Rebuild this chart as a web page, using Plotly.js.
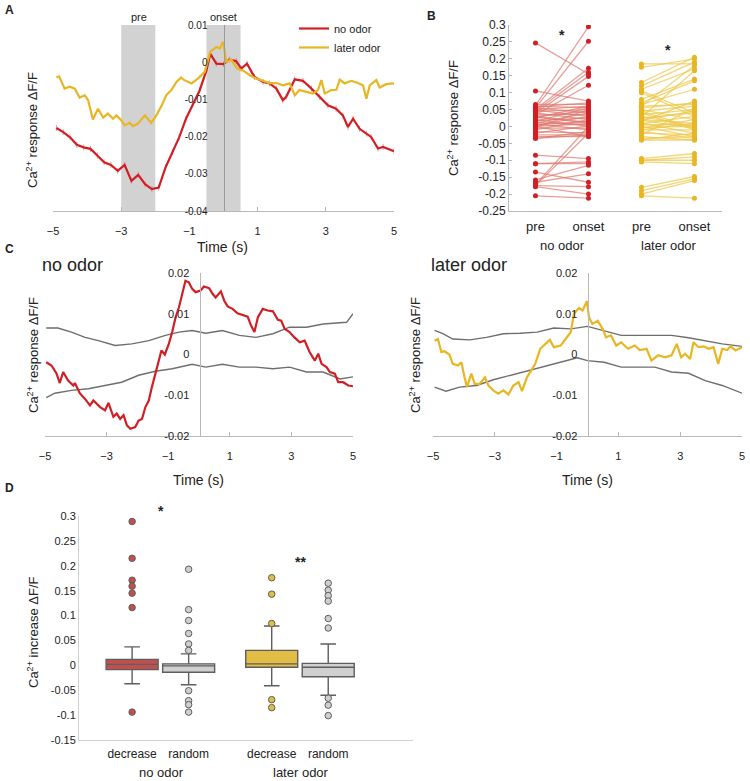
<!DOCTYPE html>
<html><head><meta charset="utf-8">
<script src="https://cdn.plot.ly/plotly-3.0.1.min.js"></script>
<style>html,body{margin:0;padding:0;background:#fff}#chart{width:750px;height:781px}</style>
</head><body><div id="chart"></div>
<script>
// ---------- DATA ----------
// Panel A: mean traces
const tA_noOdor = [-4.9,-4.7,-4.5,-4.3,-4.1,-3.9,-3.7,-3.5,-3.3,-3.1,-2.9,-2.7,-2.5,-2.3,-2.1,-1.9,-1.7,-1.5,-1.3,-1.1,-0.9,-0.7,-0.5,-0.39,-0.21,0,0.17,0.37,0.52,0.69,0.91,1.16,1.35,1.55,1.74,1.84,2.09,2.33,2.58,2.82,3.06,3.3,3.5,3.65,3.8,3.99,4.19,4.33,4.53,4.68,5.0];
const vA_noOdor = [-0.0177,-0.0188,-0.0202,-0.0222,-0.0229,-0.0233,-0.0251,-0.0269,-0.0276,-0.0292,-0.0276,-0.0319,-0.0303,-0.0328,-0.0341,-0.0337,-0.0283,-0.0242,-0.0202,-0.0152,-0.0112,-0.0076,-0.0022,0.0023,-0.0004,-0.0005,0.0007,0.0003,-0.0017,-0.0004,-0.004,-0.0053,-0.0057,-0.0071,-0.0102,-0.0093,-0.0046,-0.005,-0.0071,-0.0093,-0.0116,-0.0125,-0.0143,-0.0174,-0.0152,-0.0179,-0.0192,-0.0201,-0.0232,-0.0228,-0.0239];
const tA_laterOdor = [-4.9,-4.82,-4.66,-4.51,-4.36,-4.22,-4.07,-3.97,-3.83,-3.68,-3.53,-3.39,-3.24,-3.14,-3.0,-2.9,-2.75,-2.65,-2.51,-2.31,-2.12,-1.97,-1.82,-1.68,-1.53,-1.38,-1.24,-1.17,-0.94,-0.75,-0.55,-0.39,-0.21,-0.11,-0.01,0.08,0.23,0.4,0.57,0.77,0.96,1.16,1.35,1.55,1.74,1.94,2.09,2.23,2.43,2.62,2.77,2.87,2.97,3.16,3.31,3.41,3.55,3.75,3.94,4.09,4.19,4.29,4.48,4.58,4.77,5.0];
const vA_laterOdor = [-0.0041,-0.0038,-0.0071,-0.0066,-0.0071,-0.0095,-0.0089,-0.0102,-0.0154,-0.0125,-0.0149,-0.0138,-0.0152,-0.0143,-0.0156,-0.017,-0.0163,-0.0172,-0.0165,-0.0143,-0.0163,-0.0143,-0.0118,-0.0089,-0.0075,-0.0053,-0.0041,-0.0047,-0.0057,-0.0044,-0.0026,0.0028,0.0041,0.0037,0.0055,0.0001,0.0007,-0.0017,-0.0022,-0.0035,-0.0044,-0.005,-0.0056,-0.0056,-0.0062,-0.0057,-0.0089,-0.0075,-0.008,-0.0084,-0.0075,-0.0048,-0.0084,-0.0075,-0.0074,-0.0047,-0.0057,-0.005,-0.0056,-0.0062,-0.0098,-0.0062,-0.0048,-0.0068,-0.0059,-0.0057];
const semA_noOdor = 0.0008;

// Panel B: paired pre / onset responses
const preNoOdor   = [0.247,0.105,0.062,0.055,0.05,0.045,0.04,0.035,0.065,0.06,0.058,0.055,0.05,0.048,0.045,0.04,0.035,0.03,0.028,0.025,0.02,0.018,0.015,0.012,0.01,0.008,0.005,0.003,0.0,-0.003,-0.005,-0.01,-0.015,-0.02,-0.025,-0.03,-0.035,-0.085,-0.11,-0.11,-0.135,-0.158,-0.165,-0.172,-0.175,-0.178,-0.175,-0.205,-0.035,0.0,0.03];
const onsetNoOdor = [0.155,0.075,0.295,0.252,0.172,0.16,0.148,0.122,0.065,0.055,0.07,0.04,0.06,0.03,0.05,0.02,0.035,0.045,0.01,0.06,0.0,0.025,0.055,0.005,0.04,-0.01,0.015,0.03,0.008,0.05,-0.005,0.02,-0.02,0.002,-0.025,-0.03,-0.015,-0.095,-0.11,-0.105,-0.165,-0.115,-0.14,0.0,-0.02,-0.2,-0.178,-0.212,-0.025,-0.03,0.012];
const preLaterOdor   = [0.185,0.175,0.13,0.12,0.11,0.105,0.1,0.08,0.07,0.065,0.06,0.055,0.05,0.045,0.04,0.035,0.03,0.028,0.025,0.02,0.018,0.015,0.01,0.008,0.005,0.0,-0.003,-0.005,-0.01,-0.015,-0.02,-0.025,-0.03,-0.035,-0.04,-0.04,-0.095,-0.1,-0.1,-0.105,-0.18,-0.19,-0.2,-0.205,0.06,0.045,-0.01,0.02];
const onsetLaterOdor = [0.185,0.2,0.205,0.19,0.17,0.04,0.03,0.14,0.135,0.11,0.18,0.07,0.02,0.06,-0.01,0.05,0.0,0.165,0.04,0.01,-0.005,0.075,-0.02,0.03,0.005,-0.03,0.0,0.02,-0.01,-0.035,-0.025,0.055,-0.04,-0.03,-0.04,-0.02,-0.08,-0.09,-0.1,-0.11,-0.148,-0.155,-0.16,-0.212,0.065,-0.005,0.01,0.045];
const catB = ['pre','onset','pre','onset'];
const groupB = ['no odor','later odor'];
const yTicksB = [0.3,0.25,0.2,0.15,0.1,0.05,0,-0.05,-0.1,-0.15,-0.2,-0.25];
const yTickTextB = ['0.3','0.25','0.2','0.15','0.1','0.05','0','-0.05','-0.1','-0.15','-0.2','-0.25'];

// Panel C: example cells with shuffle bounds
const tC_red = [-4.96,-4.79,-4.63,-4.52,-4.41,-4.25,-4.08,-4.03,-3.87,-3.7,-3.54,-3.43,-3.21,-3.05,-2.94,-2.78,-2.67,-2.56,-2.45,-2.34,-2.23,-2.07,-1.96,-1.85,-1.74,-1.63,-1.53,-1.42,-1.31,-1.22,-1.11,-0.98,-0.87,-0.76,-0.65,-0.54,-0.44,-0.33,-0.22,-0.11,0.05,0.16,0.33,0.44,0.54,0.71,0.82,0.93,1.09,1.25,1.42,1.58,1.69,1.8,1.91,2.07,2.23,2.4,2.56,2.67,2.78,2.94,3.1,3.27,3.43,3.59,3.76,3.87,3.98,4.14,4.25,4.41,4.52,4.68,4.85,5.0];
const vC_red = [-0.0019,-0.0027,-0.0046,-0.007,-0.0043,-0.0064,-0.0076,-0.007,-0.0095,-0.0109,-0.0125,-0.0113,-0.0129,-0.0137,-0.0119,-0.0153,-0.0145,-0.0158,-0.0149,-0.0174,-0.0182,-0.0178,-0.0162,-0.0158,-0.0129,-0.0113,-0.008,-0.0047,-0.0019,0.001,0.0,0.0026,0.0055,0.0091,0.0116,0.0149,0.0181,0.0177,0.0161,0.0153,0.0157,0.0167,0.0163,0.0149,0.014,0.0155,0.0132,0.0118,0.0112,0.0101,0.0096,0.0093,0.0071,0.0055,0.0091,0.0112,0.0108,0.0106,0.0085,0.0083,0.0063,0.0055,0.0042,0.003,0.0034,0.0006,-0.0015,0.0002,-0.0023,-0.0031,-0.0043,-0.0047,-0.0068,-0.0068,-0.0076,-0.0078];
const tC_redUp = [-4.96,-4.58,-4.14,-3.7,-3.27,-2.72,-2.18,-1.63,-1.09,-0.65,-0.22,0.22,0.76,1.31,1.85,2.4,2.94,3.49,4.03,4.58,4.79,5.0];
const vC_redUp = [0.0065,0.0065,0.0055,0.0042,0.0034,0.0022,0.0026,0.0034,0.0047,0.0055,0.0059,0.0052,0.0059,0.0047,0.0042,0.0051,0.0067,0.0067,0.0075,0.0079,0.0079,0.01];
const tC_redLo = [-4.96,-4.68,-4.14,-3.59,-3.05,-2.51,-1.96,-1.42,-0.87,-0.22,0.22,0.76,1.31,1.85,2.4,2.94,3.49,4.03,4.58,5.0];
const vC_redLo = [-0.0106,-0.0095,-0.0088,-0.0084,-0.0076,-0.0068,-0.0051,-0.0041,-0.0035,-0.0024,-0.0031,-0.0024,-0.0031,-0.0031,-0.0035,-0.0031,-0.0043,-0.0043,-0.006,-0.0055];
const tC_yel = [-4.95,-4.84,-4.73,-4.63,-4.47,-4.36,-4.19,-4.08,-3.98,-3.9,-3.76,-3.65,-3.49,-3.32,-3.21,-3.05,-2.89,-2.72,-2.56,-2.4,-2.23,-2.12,-1.96,-1.85,-1.69,-1.53,-1.36,-1.22,-1.09,-0.87,-0.71,-0.54,-0.44,-0.27,-0.16,-0.02,0.05,0.16,0.33,0.49,0.6,0.76,0.93,1.09,1.31,1.53,1.69,1.91,2.07,2.29,2.51,2.72,2.89,3.03,3.16,3.32,3.43,3.59,3.76,3.92,4.08,4.23,4.36,4.52,4.63,4.79,5.0];
const vC_yel = [0.0034,0.0038,0.0006,0.0008,0.0,-0.0023,-0.0027,-0.0019,-0.0056,-0.008,-0.0047,-0.0072,-0.0072,-0.0056,-0.0076,-0.0088,-0.0096,-0.0088,-0.0098,-0.0076,-0.0068,-0.009,-0.0056,-0.0043,-0.0023,0.0014,0.0026,0.0036,0.0018,0.0022,0.0038,0.0055,0.01,0.0114,0.0108,0.0131,0.0091,0.0075,0.0083,0.0063,0.0042,0.0047,0.0022,0.003,0.0014,0.0022,0.0011,0.0014,-0.0015,-0.0002,-0.0007,-0.0002,0.0026,-0.0007,0.0002,-0.0011,0.003,0.0018,0.002,0.0014,0.0018,-0.0023,0.0014,0.0011,0.002,0.001,0.0018];
const tC_yelUp = [-4.95,-4.68,-4.36,-3.81,-3.27,-2.72,-2.18,-1.63,-1.09,-0.54,0,0.54,1.09,1.63,2.18,2.72,3.27,3.81,4.36,5.0];
const vC_yelUp = [0.0059,0.0051,0.0038,0.0036,0.0042,0.0051,0.0052,0.0055,0.0065,0.0063,0.0069,0.0059,0.0047,0.0047,0.0047,0.0047,0.0041,0.0034,0.0026,0.002];
const tC_yelLo = [-4.95,-4.58,-4.14,-3.59,-3.05,-2.51,-1.96,-1.42,-0.87,-0.33,0,0.54,1.09,1.63,2.18,2.72,3.27,3.81,4.36,5.0];
const vC_yelLo = [-0.008,-0.009,-0.008,-0.0076,-0.0062,-0.0051,-0.0041,-0.0029,-0.0019,-0.0008,-0.0015,-0.0019,-0.0031,-0.0031,-0.0031,-0.0043,-0.0046,-0.0064,-0.0076,-0.0095];

// Panel D: box statistics
const catD = ['decrease','random','decrease','random'];
const groupD = ['no odor','later odor'];
const q1D  = [-0.0087,-0.014,-0.004,-0.023];
const medD = [0.002,-0.001,0.003,-0.004];
const q3D  = [0.012,0.003,0.030,0.004];
const loD  = [-0.037,-0.039,-0.041,-0.060];
const hiD  = [0.037,0.023,0.079,0.043];
const outNoDec   = [0.289,0.215,0.171,0.159,0.145,0.116,-0.094];
const outNoRand  = [0.193,0.112,0.09,0.064,0.043,0.03,-0.051,-0.071,-0.079,-0.094];
const outLatDec  = [0.176,0.143,0.084,-0.069,-0.085];
const outLatRand = [0.165,0.151,0.14,0.129,0.094,0.075,-0.066,-0.08,-0.101];
const yTicksD = [0.3,0.25,0.2,0.15,0.1,0.05,0,-0.05,-0.1,-0.15];
const yTickTextD = ['0.3','0.25','0.2','0.15','0.1','0.05','0','-0.05','-0.1','-0.15'];

const xTicksTime = [-5,-3,-1,1,3,5];
const yTicksA = [0.01,0,-0.01,-0.02,-0.03,-0.04];
const yTickTextA = ['0.01','0','-0.01','-0.02','-0.03','-0.04'];
const yTicksC = [0.02,0.01,0,-0.01,-0.02];
const yTickTextC = ['0.02','0.01','0','-0.01','-0.02'];

// ---------- STYLE / LAYOUT ----------
const W = 750, H = 781;
const px = x => x / W, py = y => 1 - y / H;
const FONT = 'Liberation Sans, Arial, sans-serif';
const RED = '#d21f26', YEL = '#e8b523', GRAY = '#6e6e6e';

const posB = [0, 1, 2, 3];
const posD = [0, 1, 2.47, 3.47];

function pairLines(pre, onset, x0, x1) {
  const xs = [], ys = [];
  pre.forEach((p, i) => { xs.push(x0, x1, null); ys.push(p, onset[i], null); });
  return {xs, ys};
}
const pnl = pairLines(preNoOdor, onsetNoOdor, posB[0], posB[1]);
const plo = pairLines(preLaterOdor, onsetLaterOdor, posB[2], posB[3]);

const traces = [
  {x: tA_noOdor, y: vA_noOdor, type: 'scatter', mode: 'lines', name: 'no odor', xaxis: 'x', yaxis: 'y',
   line: {color: RED, width: 2.2},
   error_y: {type: 'constant', value: semA_noOdor, color: 'rgba(232,120,120,0.75)', thickness: 1, width: 0}},
  {x: tA_laterOdor, y: vA_laterOdor, type: 'scatter', mode: 'lines', name: 'later odor', xaxis: 'x', yaxis: 'y',
   line: {color: YEL, width: 2.2}},

  {x: pnl.xs, y: pnl.ys, type: 'scatter', mode: 'lines', xaxis: 'x2', yaxis: 'y2', showlegend: false,
   line: {color: 'rgba(222,118,108,0.7)', width: 1.3}},
  {x: preNoOdor.map(() => posB[0]).concat(onsetNoOdor.map(() => posB[1])), y: preNoOdor.concat(onsetNoOdor),
   type: 'scatter', mode: 'markers', xaxis: 'x2', yaxis: 'y2', showlegend: false,
   marker: {color: RED, size: 5}},
  {x: plo.xs, y: plo.ys, type: 'scatter', mode: 'lines', xaxis: 'x2', yaxis: 'y2', showlegend: false,
   line: {color: 'rgba(238,200,75,0.75)', width: 1.3}},
  {x: preLaterOdor.map(() => posB[2]).concat(onsetLaterOdor.map(() => posB[3])), y: preLaterOdor.concat(onsetLaterOdor),
   type: 'scatter', mode: 'markers', xaxis: 'x2', yaxis: 'y2', showlegend: false,
   marker: {color: YEL, size: 5}},

  {x: tC_redUp, y: vC_redUp, type: 'scatter', mode: 'lines', xaxis: 'x3', yaxis: 'y3', showlegend: false, line: {color: GRAY, width: 1.4}},
  {x: tC_redLo, y: vC_redLo, type: 'scatter', mode: 'lines', xaxis: 'x3', yaxis: 'y3', showlegend: false, line: {color: GRAY, width: 1.4}},
  {x: tC_red, y: vC_red, type: 'scatter', mode: 'lines', xaxis: 'x3', yaxis: 'y3', showlegend: false, line: {color: RED, width: 2.2}},

  {x: tC_yelUp, y: vC_yelUp, type: 'scatter', mode: 'lines', xaxis: 'x4', yaxis: 'y4', showlegend: false, line: {color: GRAY, width: 1.4}},
  {x: tC_yelLo, y: vC_yelLo, type: 'scatter', mode: 'lines', xaxis: 'x4', yaxis: 'y4', showlegend: false, line: {color: GRAY, width: 1.4}},
  {x: tC_yel, y: vC_yel, type: 'scatter', mode: 'lines', xaxis: 'x4', yaxis: 'y4', showlegend: false, line: {color: YEL, width: 2.2}}
];

const boxFill = ['#c0504d', '#d0d0d0', '#e1bd45', '#d0d0d0'];
const outFill = ['#c0504d', '#cfcfcf', '#e1bd45', '#cfcfcf'];
const outs = [outNoDec, outNoRand, outLatDec, outLatRand];
for (let i = 0; i < 4; i++) {
  traces.push({type: 'box', x: [posD[i]], q1: [q1D[i]], median: [medD[i]], q3: [q3D[i]],
    lowerfence: [loD[i]], upperfence: [hiD[i]], width: 0.92, whiskerwidth: 0.3, boxpoints: false,
    fillcolor: boxFill[i], line: {color: '#5e5e5e', width: 1.4}, xaxis: 'x5', yaxis: 'y5', showlegend: false});
  traces.push({type: 'scatter', mode: 'markers', x: outs[i].map(() => posD[i]), y: outs[i], xaxis: 'x5', yaxis: 'y5',
    showlegend: false, marker: {color: outFill[i], size: 6.5, line: {color: '#5e5e5e', width: 1}}});
}

const baseAx = {showgrid: false, zeroline: false, showline: true, linecolor: '#b8b8b8', linewidth: 1,
  tickfont: {family: FONT, size: 11, color: '#222'}, fixedrange: true};

const layout = {
  width: W, height: H, margin: {l: 0, r: 0, t: 0, b: 0},
  paper_bgcolor: '#fff', plot_bgcolor: 'rgba(0,0,0,0)',
  font: {family: FONT, color: '#222'},
  showlegend: true,
  legend: {x: px(294), y: py(14), xanchor: 'left', yanchor: 'top', bgcolor: 'rgba(0,0,0,0)',
    font: {family: FONT, size: 11, color: '#222'}, tracegroupgap: 0, itemwidth: 30},
  // A
  xaxis: Object.assign({}, baseAx, {domain: [px(53), px(394)], range: [-5, 5], anchor: 'y',
    tickvals: xTicksTime, ticks: 'inside', ticklen: 4, tickcolor: '#b8b8b8', ticklabelstandoff: 10}),
  yaxis: Object.assign({}, baseAx, {domain: [py(211), py(25)], range: [-0.04, 0.01], anchor: 'free',
    position: px(223.5), tickvals: yTicksA, ticktext: yTickTextA, ticks: '', linecolor: '#9a9a9a',
    ticklabelstandoff: 14, tickfont: {family: FONT, size: 10, color: '#222'}}),
  // B
  xaxis2: Object.assign({}, baseAx, {domain: [px(509), px(722)], range: [-0.5, 3.52], anchor: 'y2',
    tickvals: posB, ticktext: catB, ticks: '', ticklabelstandoff: 3, tickfont: {family: FONT, size: 13, color: '#222'}}),
  yaxis2: Object.assign({}, baseAx, {domain: [py(211), py(25)], range: [-0.25, 0.3], anchor: 'x2',
    tickvals: yTicksB, ticktext: yTickTextB, ticks: 'inside', ticklen: 3, tickcolor: '#b8b8b8',
    tickfont: {family: FONT, size: 12, color: '#222'}}),
  // C left
  xaxis3: Object.assign({}, baseAx, {domain: [px(45), px(353)], range: [-5, 5], anchor: 'y3',
    tickvals: xTicksTime, ticks: 'inside', ticklen: 4, tickcolor: '#b8b8b8', ticklabelstandoff: 10}),
  yaxis3: Object.assign({}, baseAx, {domain: [py(436), py(273)], range: [-0.02, 0.02], anchor: 'free',
    position: px(199.5), tickvals: yTicksC, ticktext: yTickTextC, ticks: '', ticklabelstandoff: 8}),
  // C right
  xaxis4: Object.assign({}, baseAx, {domain: [px(433), px(742)], range: [-5, 5], anchor: 'y4',
    tickvals: xTicksTime, ticks: 'inside', ticklen: 4, tickcolor: '#b8b8b8', ticklabelstandoff: 10}),
  yaxis4: Object.assign({}, baseAx, {domain: [py(436), py(273)], range: [-0.02, 0.02], anchor: 'free',
    position: px(587.5), tickvals: yTicksC, ticktext: yTickTextC, ticks: '', ticklabelstandoff: 8}),
  // D
  xaxis5: Object.assign({}, baseAx, {domain: [px(79), px(413)], range: [-0.94, 4.97], anchor: 'y5',
    tickvals: posD, ticktext: catD, ticks: '', ticklabelstandoff: 3, linecolor: '#d0d0d0',
    tickfont: {family: FONT, size: 12, color: '#222'}}),
  yaxis5: Object.assign({}, baseAx, {domain: [py(740), py(516)], range: [-0.15, 0.3], anchor: 'x5',
    tickvals: yTicksD, ticktext: yTickTextD, ticks: '', linecolor: '#d0d0d0'}),
  shapes: [
    {type: 'rect', xref: 'x', yref: 'y', x0: -3, x1: -2, y0: -0.04, y1: 0.01, fillcolor: '#d2d2d2', line: {width: 0}, layer: 'below'},
    {type: 'rect', xref: 'x', yref: 'y', x0: -0.5, x1: 0.5, y0: -0.04, y1: 0.01, fillcolor: '#d2d2d2', line: {width: 0}, layer: 'below'}
  ],
  annotations: []
};

function ann(x, y, text, size, extra) {
  layout.annotations.push(Object.assign({xref: 'paper', yref: 'paper', x: px(x), y: py(y), text: text,
    showarrow: false, xanchor: 'center', yanchor: 'middle', font: {family: FONT, size: size, color: '#222'}}, extra || {}));
}
const yTitle = 'Ca<sup>2+</sup> response ΔF/F';
// panel letters
ann(9, 10, '<b>A</b>', 12);
ann(432, 16, '<b>B</b>', 12);
ann(9, 249, '<b>C</b>', 12);
ann(9, 488, '<b>D</b>', 12);
// A
ann(139, 17, 'pre', 11);
ann(223, 17, 'onset', 11);
ann(32, 130, yTitle, 13, {textangle: -90});
ann(222, 247, 'Time (s)', 14);
// B
ann(453, 118, yTitle, 13, {textangle: -90});
ann(562, 245, groupB[0], 13);
ann(669, 245, groupB[1], 13);
ann(562, 35, '<b>*</b>', 14);
ann(668, 50, '<b>*</b>', 14);
// C
ann(72, 265, 'no odor', 18);
ann(469, 265, 'later odor', 18);
ann(33, 355, yTitle, 13, {textangle: -90});
ann(415, 355, yTitle, 13, {textangle: -90});
ann(199, 480, 'Time (s)', 14);
ann(587, 480, 'Time (s)', 14);
// D
ann(33, 632, 'Ca<sup>2+</sup> increase ΔF/F', 13, {textangle: -90});
ann(161, 772, groupD[0], 13);
ann(301, 772, groupD[1], 13);
ann(161, 511, '<b>*</b>', 14);
ann(300, 562, '<b>**</b>', 14);

Plotly.newPlot('chart', traces, layout, {displayModeBar: false, staticPlot: true});
</script></body></html>
